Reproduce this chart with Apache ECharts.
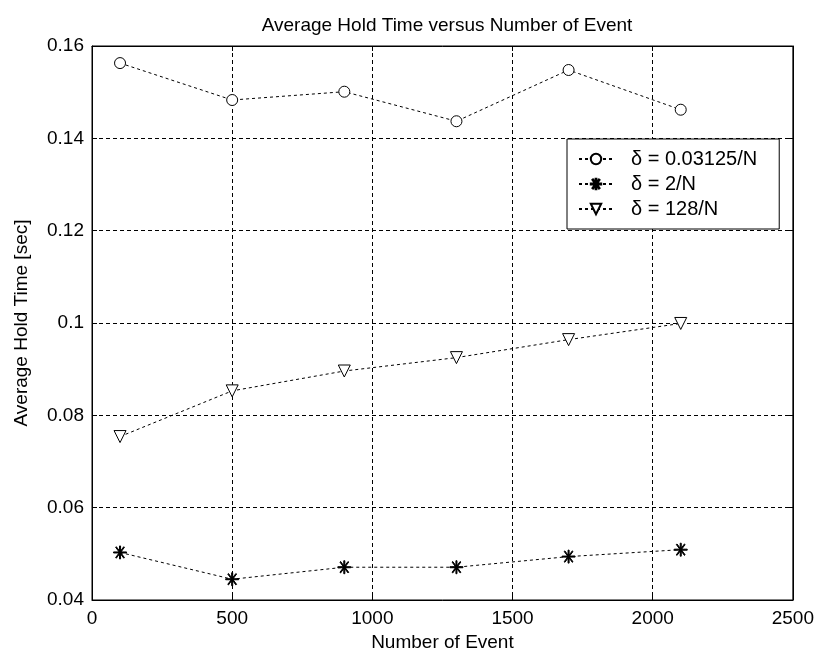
<!DOCTYPE html>
<html><head><meta charset="utf-8">
<script src="https://cdn.jsdelivr.net/npm/echarts@6/dist/echarts.min.js"></script>
<style>html,body{margin:0;padding:0;background:#fff}#c{width:817px;height:657px}</style>
</head><body><div id="c"></div>
<script>
const events = [100, 500, 900, 1300, 1700, 2100];
const seriesNames = ['δ = 0.03125/N', 'δ = 2/N', 'δ = 128/N'];
const holdSmall = [0.1563, 0.1483, 0.1501, 0.1437, 0.1548, 0.1462];
const holdMid = [0.0503, 0.0445, 0.0471, 0.0471, 0.0494, 0.0509];
const holdLarge = [0.0754, 0.0853, 0.0896, 0.0925, 0.0964, 0.0999];
const yTicks = [0.04, 0.06, 0.08, 0.1, 0.12, 0.14, 0.16];

const font = 'Liberation Sans, Arial, sans-serif';
const star = 'path://M9.2,0 L10.8,0 L10.8,20 L9.2,20 Z M0,9.2 L20,9.2 L20,10.8 L0,10.8 Z M3.2,2.1 L4.3,1.2 L16.8,17.9 L15.7,18.8 Z M15.7,1.2 L16.8,2.1 L4.3,18.8 L3.2,17.9 Z';
const tri = 'path://M0,0 L10,0 L5,9 Z';
function pts(v){ return events.map((x,i)=>[x,v[i]]); }
function mk(name, data, symbol, size, fill){
  return {name, type:'line', data: pts(data), symbol, symbolSize:size,
    showSymbol:true, lineStyle:{color:'#000', width:1, type:[3,3]},
    itemStyle:{color:fill, borderColor:'#000', borderWidth:1},
    emphasis:{disabled:true}, animation:false, z:5};
}
const chart = echarts.init(document.getElementById('c'));
const axisLbl = {color:'#000', fontFamily:font, fontSize:19};
const split = {show:true, showMinLine:false, showMaxLine:false, lineStyle:{color:'#000', type:[4,3], width:1}};
const tick = {inside:true, length:5, lineStyle:{color:'#000'}};
const line = {show:true, onZero:false, lineStyle:{color:'#000', width:1}};
chart.setOption({
  backgroundColor:'#fff',
  animation:false,
  title:{text:'Average Hold Time versus Number of Event', left:442, top:11, textAlign:'center',
    textStyle:{fontFamily:font, fontSize:19, fontWeight:'normal', color:'#000'}},
  grid:{left:92, right:21, top:46, bottom:55, show:true, borderColor:'#000', borderWidth:1, backgroundColor:'#fff'},
  legend:{orient:'vertical', left:567, top:139,
    backgroundColor:'#fff', borderColor:'#000', borderWidth:1, padding:[10,22,10,11],
    itemWidth:34, itemHeight:13, itemGap:5,
    textStyle:{fontFamily:font, fontSize:20, color:'#000', padding:[0,0,0,13]},
    data:seriesNames},
  xAxis:[{type:'value', min:0, max:2500, interval:500, name:'Number of Event', nameLocation:'middle', nameGap:33,
    nameTextStyle:{fontFamily:font, fontSize:19, color:'#000'},
    axisLine:line, axisTick:tick,
    axisLabel:Object.assign({}, axisLbl, {margin:9, formatter:v=>String(v)}),
    splitLine:split},
    {type:'value', position:'top', min:0, max:2500, interval:500, axisLine:line,
     axisTick:tick, axisLabel:{show:false}, splitLine:{show:false}}],
  yAxis:[{type:'value', min:0.04, max:0.16, interval:0.02, name:'Average Hold Time [sec]', nameLocation:'middle', nameGap:61,
    nameTextStyle:{fontFamily:font, fontSize:19, color:'#000'},
    axisLine:line, axisTick:tick,
    axisLabel:Object.assign({}, axisLbl, {margin:8, formatter:v=>{const t=yTicks.find(k=>Math.abs(k-v)<1e-9); return String(t!==undefined?t:v);}}),
    splitLine:split},
    {type:'value', position:'right', min:0.04, max:0.16, interval:0.02, axisLine:line,
     axisTick:tick, axisLabel:{show:false}, splitLine:{show:false}}],
  series:[
    mk(seriesNames[0], holdSmall, 'circle', 11, '#fff'),
    mk(seriesNames[1], holdMid, star, 13, '#000'),
    mk(seriesNames[2], holdLarge, tri, 12, '#fff')
  ]
});
</script></body></html>
